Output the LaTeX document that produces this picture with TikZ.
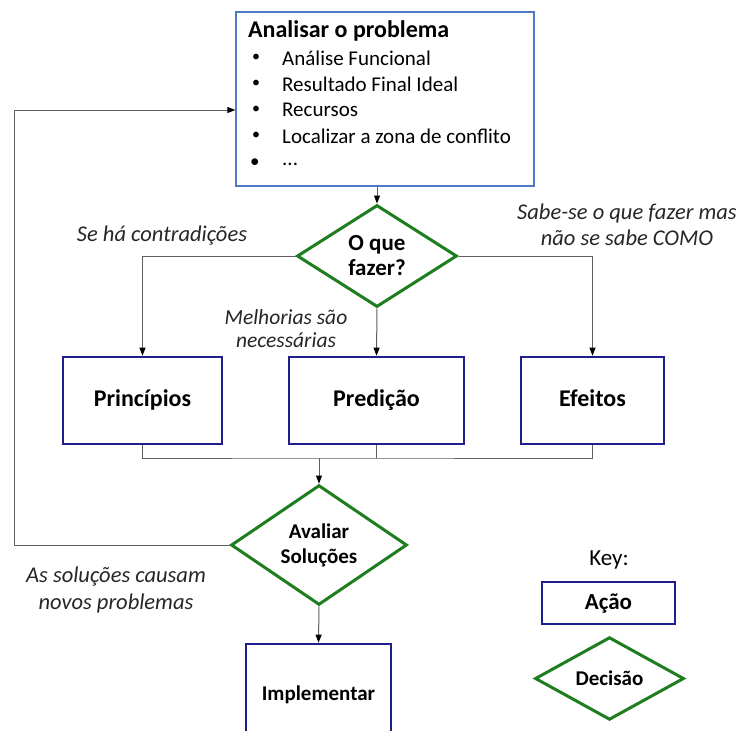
\documentclass[tikz,border=0pt]{standalone}
\usepackage{fontspec}
\setmainfont{Carlito}
\usetikzlibrary{shapes.geometric,arrows.meta}
\definecolor{lightblue}{RGB}{80,120,200}
\definecolor{navy}{RGB}{30,30,140}
\definecolor{dgreen}{RGB}{30,125,30}
\definecolor{wire}{RGB}{95,95,95}
\tikzset{
  x=1pt, y=-1pt,
  actionbox/.style={draw=navy, line width=2.6pt, rectangle, inner sep=0pt, text height=16pt, text depth=4pt, font=\fontsize{24}{26}\selectfont\bfseries},
  decisionbox/.style={draw=dgreen, line width=3pt, diamond, inner sep=0pt, align=center, font=\fontsize{21}{25}\selectfont\bfseries},
  note/.style={font=\fontsize{22.5}{26}\selectfont\itshape, text=black!85, align=center, inner sep=0pt},
  item/.style={anchor=west, font=\fontsize{21}{24}\selectfont, inner sep=0pt},
  wire/.style={draw=wire, line width=1pt},
  flow/.style={wire, -{Triangle[width=6pt,length=8pt,fill=black,color=black]}}
}
\begin{document}
\begin{tikzpicture}
\useasboundingbox (0,0) rectangle (742,731);
\clip (0,0) rectangle (742,731);
\fill[white] (0,0) rectangle (742,731);

% analysis box with its list
\node[draw=lightblue, line width=1.3pt, minimum width=298pt, minimum height=174pt, inner sep=0pt] (ana) at (385,99) {};
\node[item, font=\fontsize{24}{26}\selectfont\bfseries] (t0) at (248,31) {Analisar o problema};
\node[item, font=\fontsize{16}{20}\selectfont] (b1) at (252,58) {•}; \node[item] (i1) at (282,58) {Análise Funcional};
\node[item, font=\fontsize{16}{20}\selectfont] (b2) at (252,84) {•}; \node[item] (i2) at (282,84) {Resultado Final Ideal};
\node[item, font=\fontsize{16}{20}\selectfont] (b3) at (252,110) {•}; \node[item] (i3) at (282,110) {Recursos};
\node[item, font=\fontsize{16}{20}\selectfont] (b4) at (252,136) {•}; \node[item] (i4) at (282,136) {Localizar a zona de conflito};
\node[item, font=\fontsize{19}{20}\selectfont] (b5) at (250,163) {•}; \node[item] (i5) at (282,164) {...};

% decision: what to do
\node[decisionbox, minimum width=160pt, minimum height=102pt, font=\fontsize{23}{25}\selectfont\bfseries] (what) at (377,256) {O que\\fazer?};

% action boxes
\node[actionbox, minimum width=159pt, minimum height=87pt] (princ) at (142.5,400.5) {Princípios};
\node[actionbox, minimum width=175pt, minimum height=87pt] (pred) at (376.5,400.5) {Predição};
\node[actionbox, minimum width=143pt, minimum height=87pt] (efe) at (592.5,400.5) {Efeitos};

% evaluation
\node[decisionbox, minimum width=176pt, minimum height=115pt] (aval) at (319,545) {Avaliar\\Soluções};
\node[actionbox, minimum width=145pt, minimum height=100pt, font=\fontsize{21}{24}\selectfont\bfseries] (impl) at (318.5,694) {Implementar};

% key
\node[font=\fontsize{23}{24}\selectfont, inner sep=0pt] (key) at (609,560) {Key:};
\node[actionbox, minimum width=133pt, minimum height=42pt, font=\fontsize{23}{24}\selectfont\bfseries] (kact) at (608.5,603) {Ação};
\node[decisionbox, minimum width=149pt, minimum height=77pt] (kdec) at (609.5,678.5) {Decisão};

% notes
\node[note] (n1) at (162,236) {Se há contradições};
\node[note] (n2) at (627,225) {Sabe-se o que fazer mas\\não se sabe COMO};
\node[note, font=\fontsize{21.5}{23}\selectfont\itshape] (n3) at (286,329) {Melhorias são\\necessárias};
\node[note, font=\fontsize{22.5}{27}\selectfont\itshape] (n4) at (116,590) {As soluções causam\\novos problemas};

% connectors
\draw[flow] (what.north |- ana.south) -- (what.north);
\draw[flow] (what.west) -| (princ.north);
\draw[flow] (what.east) -| (efe.north);
\draw[flow] (what.south) -- (pred.north);

\coordinate (mj) at (319,458);
\draw[wire] (princ.south) |- (mj) -| (efe.south);
\draw[wire] (pred.south) -- (pred.south |- mj);
\draw[flow] (mj) -- (aval.north);

\coordinate (lp1) at (14,545);
\coordinate (lp2) at (14,110);
\draw[flow] (aval.west) -- (lp1) -- (lp2) -- (lp2 -| ana.west);
\draw[flow] (aval.south) -- (impl.north);
\end{tikzpicture}
\end{document}
